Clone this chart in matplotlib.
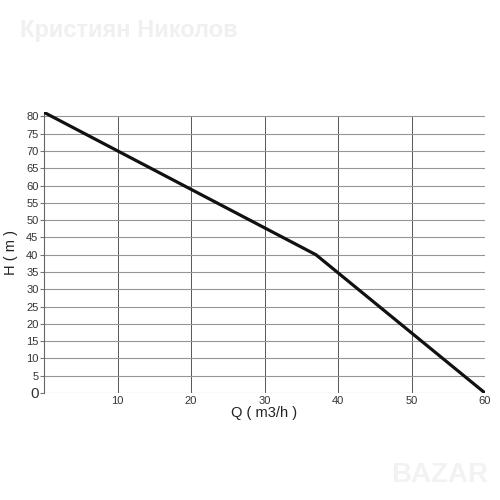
import matplotlib.pyplot as plt

# pump curve: flow Q (m3/h) vs head H (m)
flow = [0, 37, 60]
head = [81.2, 40, 0]

x_ticks = [10, 20, 30, 40, 50, 60]
y_ticks = [5, 10, 15, 20, 25, 30, 35, 40, 45, 50, 55, 60, 65, 70, 75, 80]

plt.rcParams['font.family'] = ['Liberation Sans', 'DejaVu Sans']

fig = plt.figure(figsize=(5, 5), dpi=100)
ax = fig.add_axes([0.088, 0.214, 0.882, 0.562])

ax.vlines(x_ticks[:-1], 0, 80, color='#555555', linewidth=0.7, zorder=1)
ax.hlines([0] + y_ticks, 0, 60, color='#959595', linewidth=0.8, zorder=1)

ax.plot(flow, head, color='#111111', linewidth=2.3, zorder=3)

ax.set_xlim(0, 60)
ax.set_ylim(0, 81.3)
ax.set_xticks(x_ticks)
ax.set_yticks([0] + y_ticks)
ax.set_yticklabels(['0'] + [str(v) for v in y_ticks])
for lab in ax.get_yticklabels():
    lab.set_fontsize(8)
    lab.set_color('#333333')
ax.get_yticklabels()[0].set_fontsize(11)
ax.tick_params(axis='x', labelsize=8, labelcolor='#333333', length=0, pad=2)
ax.tick_params(axis='y', length=3, color='#777777', pad=1)

for side in ['top', 'right', 'bottom']:
    ax.spines[side].set_visible(False)
ax.spines['left'].set_color('#666666')
ax.spines['left'].set_linewidth(0.8)

ax.set_xlabel('Q ( m3/h )', fontsize=10.5, color='#222222', labelpad=0)
ax.set_ylabel('H ( m )', fontsize=10.5, color='#222222', labelpad=6)

# watermarks
fig.text(0.04, 0.94, 'Кристиян Николов', fontsize=17, fontweight='bold',
         color='#f0f0f0', ha='left', va='center')
fig.text(0.88, 0.05, 'BAZAR', fontsize=20, fontweight='bold',
         color='#f2f2f2', ha='center', va='center')

fig.savefig('out.png', dpi=100, facecolor='white')
